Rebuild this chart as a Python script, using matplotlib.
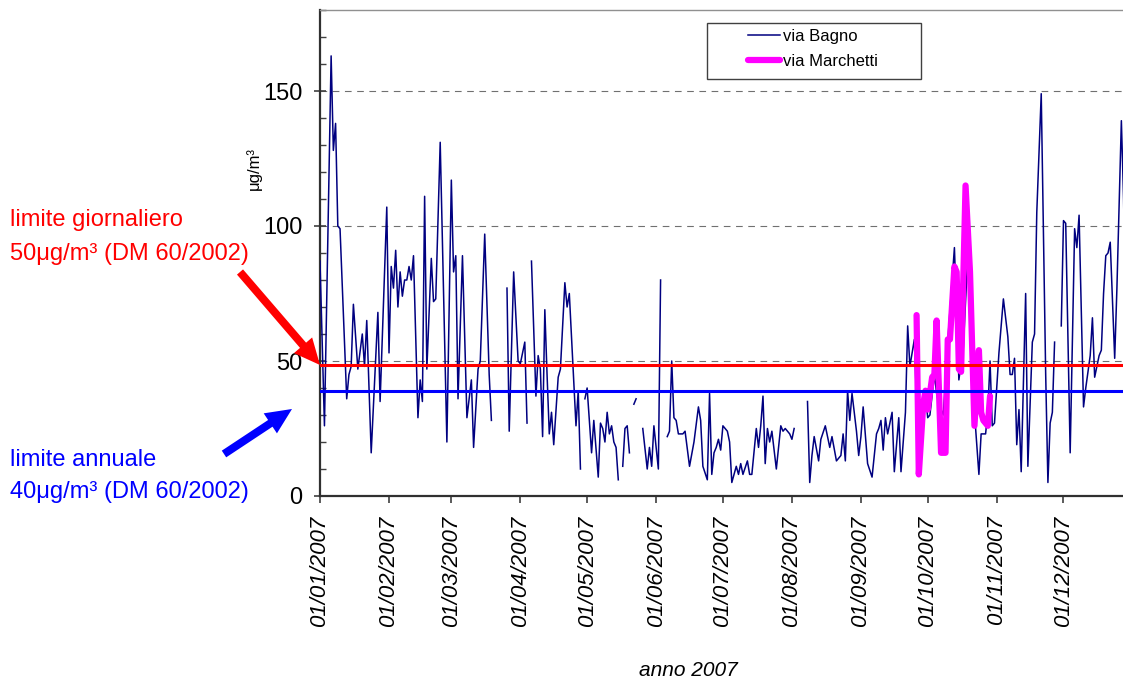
import numpy as np
import pandas as pd
import matplotlib
matplotlib.use("Agg")
import matplotlib.pyplot as plt
import matplotlib.dates as mdates
from matplotlib.patches import FancyArrow, Rectangle
from matplotlib.ticker import MultipleLocator
from matplotlib.transforms import IdentityTransform

plt.rcParams['font.family'] = ['Liberation Sans', 'DejaVu Sans']

# PM10 daily values, day offset from 01/01/2007 (nan = missing data)
bagno_day = [0, 2, 5, 6, 7, 8, 9, 12, 13, 14, 15, 17, 19, 20, 21, 23, 26, 27, 30, 31,
             32, 33, 34, 35, 36, 37, 38, 39, 40, 41, 42, 44, 45, 46, 47, 48, 50, 51, 52, 54,
             57, 59, 60, 61, 62, 64, 66, 68, 69, 71, 72, 74, 76, 77,
             80,
             84, 85, 87, 89, 90, 92, 93,
             94,
             95, 97, 98, 99, 100, 101, 102, 103, 104, 105, 107, 108, 110, 111, 112, 115, 116, 117,
             118,
             119, 120, 122, 123, 125, 126, 127, 128, 129, 130, 131, 132, 133, 134,
             135,
             136, 137, 138, 139,
             140,
             141, 142,
             144,
             145, 147, 148, 149, 150, 152, 153,
             155,
             156, 157, 158, 159, 160, 161, 163, 164, 166, 168, 170, 171, 172, 174, 175, 176, 177,
             178, 179, 180, 181, 183, 184, 185, 187, 188, 189, 190, 192, 193, 194, 196, 197, 198,
             199, 200, 201, 202, 203, 205, 207, 208, 209, 211, 212, 213,
             216,
             219, 220, 221, 222, 224, 225, 227, 228, 229, 230, 232, 234, 235, 236, 237, 238, 239,
             241, 242, 243, 244, 246, 248, 250, 251, 252, 253, 254, 255, 257, 258, 260, 261, 263,
             264, 265, 267, 269, 272, 273, 274, 276, 277, 278, 280, 282, 285, 287, 289, 291, 293,
             294, 296, 297, 299, 300, 301, 302, 303, 305, 307, 309, 310, 311, 312, 313, 314, 315,
             317, 318, 320, 321, 322, 324, 326, 327, 328, 329, 330,
             331,
             333, 334, 335, 337, 339, 340, 341, 343, 344, 346, 347, 348, 350, 351, 352, 353, 354,
             355, 357, 358, 360, 361, 362]
bagno_val = [87, 26, 163, 128, 138, 100, 99, 36, 45, 48, 71, 47, 60, 48, 65, 16, 68, 35, 107, 53,
             85, 77, 91, 70, 83, 74, 80, 80, 85, 80, 89, 29, 43, 35, 111, 47, 88, 72, 73, 131,
             20, 117, 83, 89, 36, 89, 29, 43, 18, 47, 50, 97, 45, 28,
             np.nan,
             77, 24, 83, 50, 49, 57, 27,
             np.nan,
             87, 37, 52, 47, 22, 69, 45, 23, 31, 19, 44, 47, 79, 70, 75, 26, 39, 10,
             np.nan,
             36, 40, 16, 28, 7, 27, 25, 20, 31, 23, 26, 20, 18, 6,
             np.nan,
             11, 25, 26, 16,
             np.nan,
             34, 36,
             np.nan,
             25, 10, 18, 11, 26, 10, 80,
             np.nan,
             22, 24, 50, 29, 28, 23, 23, 24, 11, 20, 33, 28, 11, 6, 38, 8, 16,
             18, 21, 17, 26, 24, 20, 5, 11, 8, 12, 8, 13, 8, 8, 25, 18, 26,
             37, 12, 25, 20, 24, 10, 26, 24, 25, 23, 21, 25,
             np.nan,
             35, 5, 15, 22, 13, 21, 26, 22, 18, 22, 13, 15, 23, 13, 39, 28, 38,
             24, 15, 22, 33, 12, 7, 23, 25, 28, 17, 29, 23, 31, 9, 29, 9, 31,
             63, 48, 58, 11, 38, 29, 30, 45, 38, 34, 30, 57, 92, 43, 55, 89, 40,
             31, 8, 23, 23, 31, 50, 26, 27, 53, 73, 59, 45, 45, 51, 19, 32, 9,
             75, 11, 57, 60, 105, 149, 45, 5, 27, 31, 57,
             np.nan,
             63, 102, 101, 16, 99, 92, 104, 33, 40, 52, 66, 44, 52, 54, 75, 89, 90,
             94, 51, 77, 139, 110, 60]

marchetti_day = [268, 269, 271, 272, 273, 275, 276, 277, 279, 281, 282, 283, 285, 286, 287,
                 288, 290, 292, 294, 296, 297, 298, 300, 301]
marchetti_val = [67, 8, 34, 39, 32, 44, 45, 65, 16, 16, 58, 58, 85, 83, 47,
                 46, 115, 83, 26, 54, 31, 28, 26, 37]

# limits as drawn on the chart
limite_giornaliero = 48.7
limite_annuale = 39.0

start = pd.Timestamp('2007-01-01')
bagno_dates = start + pd.to_timedelta(bagno_day, unit='D')
marchetti_dates = start + pd.to_timedelta(marchetti_day, unit='D')
month_ticks = pd.date_range('2007-01-01', '2007-12-01', freq='MS')

fig = plt.figure(figsize=(11.23, 6.81), dpi=100)
ax = fig.add_axes([320 / 1123, 1 - 496 / 681, 812.5 / 1123, 486 / 681])

ax.plot(bagno_dates, bagno_val, color='#000080', lw=1.1, label='via Bagno', zorder=3)
ax.plot(marchetti_dates, marchetti_val, color='#FF00FF', lw=4.5, label='via Marchetti',
        zorder=4, solid_capstyle='round', solid_joinstyle='round')
ax.axhline(limite_giornaliero, color='#FF0000', lw=2.2, zorder=5)
ax.axhline(limite_annuale, color='#0000FF', lw=2.2, zorder=5)

ax.set_xlim(start, pd.Timestamp('2008-01-01'))
ax.set_ylim(0, 180)
ax.yaxis.set_major_locator(MultipleLocator(50))
ax.yaxis.set_minor_locator(MultipleLocator(10))
ax.set_xticks(month_ticks)
ax.xaxis.set_major_formatter(mdates.DateFormatter('%d/%m/%Y'))

ax.yaxis.grid(True, which='major', ls=(0, (6, 5)), color='#707070', lw=0.8)
ax.set_axisbelow(True)

ax.tick_params(axis='y', which='major', direction='inout', length=9, width=1.2,
               labelsize=17, pad=8, color='#404040')
ax.tick_params(axis='y', which='minor', direction='in', length=4, width=1.0, color='#404040')
ax.tick_params(axis='x', which='major', direction='out', length=5, width=1.2,
               labelsize=16, pad=9, color='#404040')
for lab in ax.get_xticklabels():
    lab.set_rotation(90)
    lab.set_style('italic')

for s in ['left', 'bottom']:
    ax.spines[s].set_color('#303030')
    ax.spines[s].set_linewidth(1.6)
ax.spines['top'].set_color('#909090')
ax.spines['top'].set_linewidth(1.0)
ax.spines['right'].set_visible(False)

fig.text(688 / 1123, 1 - 670 / 681, 'anno 2007', ha='center', va='center',
         fontsize=15, style='italic')
fig.text(254 / 1123, 1 - 168 / 681, 'μg/m³', rotation=90, ha='center', va='center',
         fontsize=12)

# legend with wide Excel-like frame
leg = ax.legend(loc='upper left', bbox_to_anchor=(748 / 1123, 1 - 29 / 681),
                bbox_transform=fig.transFigure, frameon=False, fontsize=12,
                handlelength=1.9, handletextpad=0.2, labelspacing=0.6,
                borderpad=0, borderaxespad=0)
fig.add_artist(Rectangle((707 / 1123, 1 - 79 / 681), 214 / 1123, 56 / 681,
                         transform=fig.transFigure, fill=False, ec='#404040', lw=1.0))

# annotations on the left
fig.text(10 / 1123, 1 - 220 / 681, 'limite giornaliero', color='#FF0000', fontsize=17,
         ha='left', va='center')
fig.text(10 / 1123, 1 - 254 / 681, '50μg/m³ (DM 60/2002)', color='#FF0000', fontsize=17,
         ha='left', va='center')
fig.text(10 / 1123, 1 - 460 / 681, 'limite annuale', color='#0000FF', fontsize=17,
         ha='left', va='center')
fig.text(10 / 1123, 1 - 492 / 681, '40μg/m³ (DM 60/2002)', color='#0000FF', fontsize=17,
         ha='left', va='center')

fig.add_artist(FancyArrow(240, 681 - 272, 80, -93, width=8, head_width=24, head_length=26,
                          length_includes_head=True, color='#FF0000', lw=0,
                          transform=IdentityTransform()))
fig.add_artist(FancyArrow(224, 681 - 454, 68, 45, width=8, head_width=24, head_length=26,
                          length_includes_head=True, color='#0000FF', lw=0,
                          transform=IdentityTransform()))

fig.savefig('out.png', dpi=100)
